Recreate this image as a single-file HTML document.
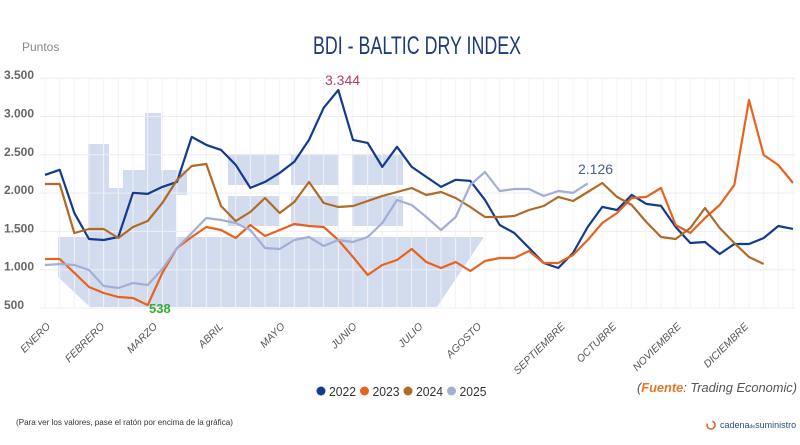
<!DOCTYPE html>
<html><head><meta charset="utf-8">
<style>
body{margin:0;background:#fff;width:800px;height:445px;overflow:hidden;font-family:"Liberation Sans",sans-serif}
svg{display:block}
</style></head><body>
<svg width="800" height="445" viewBox="0 0 800 445" xmlns="http://www.w3.org/2000/svg">
<g id="ship" fill="#d3dbef">
  <polygon points="58,237 484,237 437,307 90,307 58,277"/>
  <rect x="88" y="144" width="21" height="93"/>
  <rect x="108" y="188" width="16" height="49"/>
  <rect x="123" y="170" width="23" height="67"/>
  <rect x="145" y="113" width="16" height="124"/>
  <rect x="160" y="170" width="27" height="25"/>
  <rect x="160" y="195" width="16" height="42"/>
  <rect x="228" y="154" width="51" height="31"/><rect x="228" y="196" width="51" height="30"/>
  <rect x="291" y="154" width="48" height="31"/><rect x="291" y="196" width="48" height="30"/>
  <rect x="352" y="154" width="51" height="31"/><rect x="352" y="196" width="51" height="30"/>
</g>
<g id="grid"></g>
<g id="yaxis"></g>
<g id="xaxis"></g>
<g id="series"></g>
<text x="313" y="54" textLength="208" lengthAdjust="spacingAndGlyphs" font-size="25" fill="#1d3a7a">BDI - BALTIC DRY INDEX</text>
<text x="22" y="51" font-size="12" fill="#888">Puntos</text>
<text x="325" y="85" font-size="14" fill="#b5406a">3.344</text>
<text x="149" y="313" font-size="13" font-weight="bold" fill="#33aa33">538</text>
<text x="578" y="174" font-size="14" fill="#4a6090">2.126</text>
<g id="legend" font-size="13" fill="#333"></g>
<text x="637" y="392" textLength="160" lengthAdjust="spacingAndGlyphs" font-size="13" font-style="italic" fill="#555">(<tspan fill="#e07a2a" font-weight="bold">Fuente</tspan>: Trading Economic)</text>
<text x="16" y="425" textLength="217" lengthAdjust="spacingAndGlyphs" font-size="8.5" fill="#333">(Para ver los valores, pase el ratón por encima de la gráfica)</text>
<g>
<circle cx="711" cy="425" r="4" fill="none" stroke="#e2652a" stroke-width="1.6" stroke-dasharray="14 6"/>
<text x="720" y="428" font-size="9" fill="#2a4a8a">cadena<tspan font-size="5">de</tspan>suministro</text>
</g>
</svg>
<script>
const yTicks=[500,1000,1500,2000,2500,3000,3500];
const yTickLabels=["500","1.000","1.500","2.000","2.500","3.000","3.500"];
const months=["ENERO","FEBRERO","MARZO","ABRIL","MAYO","JUNIO","JULIO","AGOSTO","SEPTIEMBRE","OCTUBRE","NOVIEMBRE","DICIEMBRE"];
const monthWeek=[0.4,4.1,7.7,12.2,16.4,21.3,25.8,29.8,35.5,39.0,43.4,48.0];
const years=["2022","2023","2024","2025"];
const colors=["#143a8c","#e8621e","#b06a28","#a3aed6"];
const s2022=[2238,2304,1741,1401,1388,1427,2004,1990,2081,2146,2734,2629,2564,2369,2068,2146,2264,2408,2695,3114,3344,2695,2656,2342,2604,2342,2212,2081,2173,2159,1911,1584,1479,1284,1088,1022,1218,1558,1820,1780,1976,1859,1833,1558,1349,1362,1205,1336,1336,1414,1571,1532];
const s2023=[1140,1140,960,774,696,644,631,538,957,1283,1427,1557,1518,1414,1584,1440,1518,1597,1571,1557,1388,1166,931,1061,1127,1270,1100,1022,1100,983,1114,1153,1153,1244,1088,1088,1192,1388,1610,1740,1936,1950,2067,1584,1479,1675,1845,2106,3215,2497,2367,2132];
const s2024=[2119,2119,1479,1531,1531,1414,1557,1636,1871,2171,2354,2380,1832,1636,1753,1936,1740,1884,2145,1871,1819,1832,1897,1962,2014,2067,1975,2014,1936,1819,1688,1688,1701,1780,1832,1950,1897,2014,2132,1950,1845,1623,1427,1401,1545,1806,1545,1349,1166,1074];
const s2025=[1061,1075,1061,996,787,761,826,800,1009,1283,1479,1675,1649,1610,1518,1283,1270,1388,1427,1309,1388,1362,1427,1610,1910,1845,1688,1518,1688,2106,2275,2028,2054,2054,1962,2028,2002,2126];
const NS="http://www.w3.org/2000/svg";
const x0=45,x1=793,nW=52;
function X(i){return x0+i*(x1-x0)/(nW-1);}
function Y(v){return 308-(v-500)*0.0766;}
function mk(tag,attrs,parent){const e=document.createElementNS(NS,tag);for(const k in attrs)e.setAttribute(k,attrs[k]);parent.appendChild(e);return e;}
const grid=document.getElementById('grid'),ya=document.getElementById('yaxis'),xa=document.getElementById('xaxis'),sg=document.getElementById('series'),lg=document.getElementById('legend');
for(let i=0;i<nW;i++){const l=mk('line',{x1:X(i),x2:X(i),y1:Y(3500),y2:Y(500),stroke:'#f2f3f7','stroke-width':1},grid);

}
yTicks.forEach((v,i)=>{
 const l=mk('line',{x1:40,x2:795,y1:Y(v),y2:Y(v),stroke:'#eceef3','stroke-width':1},grid);
 
 
 const t=mk('text',{x:4,y:Y(v)+1,'font-size':12,'font-weight':'bold',fill:'#666'},ya);
 t.textContent=yTickLabels[i];
 
 
});
months.forEach((m,i)=>{
 const x=X(monthWeek[i]);
 const t=mk('text',{x:x,y:327,'text-anchor':'end','font-size':10.5,'font-style':'italic',fill:'#555',transform:`rotate(-45 ${x} 327)`},xa);
 t.textContent=m;
 
 
});
[s2022,s2023,s2024,s2025].forEach((s,k)=>{
 const p=mk('polyline',{points:s.map((v,i)=>X(i).toFixed(1)+','+Y(v).toFixed(1)).join(' '),fill:'none',stroke:colors[k],'stroke-width':2.2,'stroke-linejoin':'round'},sg);
 
 
});
let lx=321;
years.forEach((y,k)=>{
 const c=mk('circle',{cx:lx,cy:391,r:4.5,fill:colors[k]},lg);
 
 
 const t=mk('text',{x:lx+8,y:396,textLength:27,lengthAdjust:'spacingAndGlyphs'},lg);
 t.textContent=y;
 
 
 lx+=43.5;
});
</script>
</body></html>
